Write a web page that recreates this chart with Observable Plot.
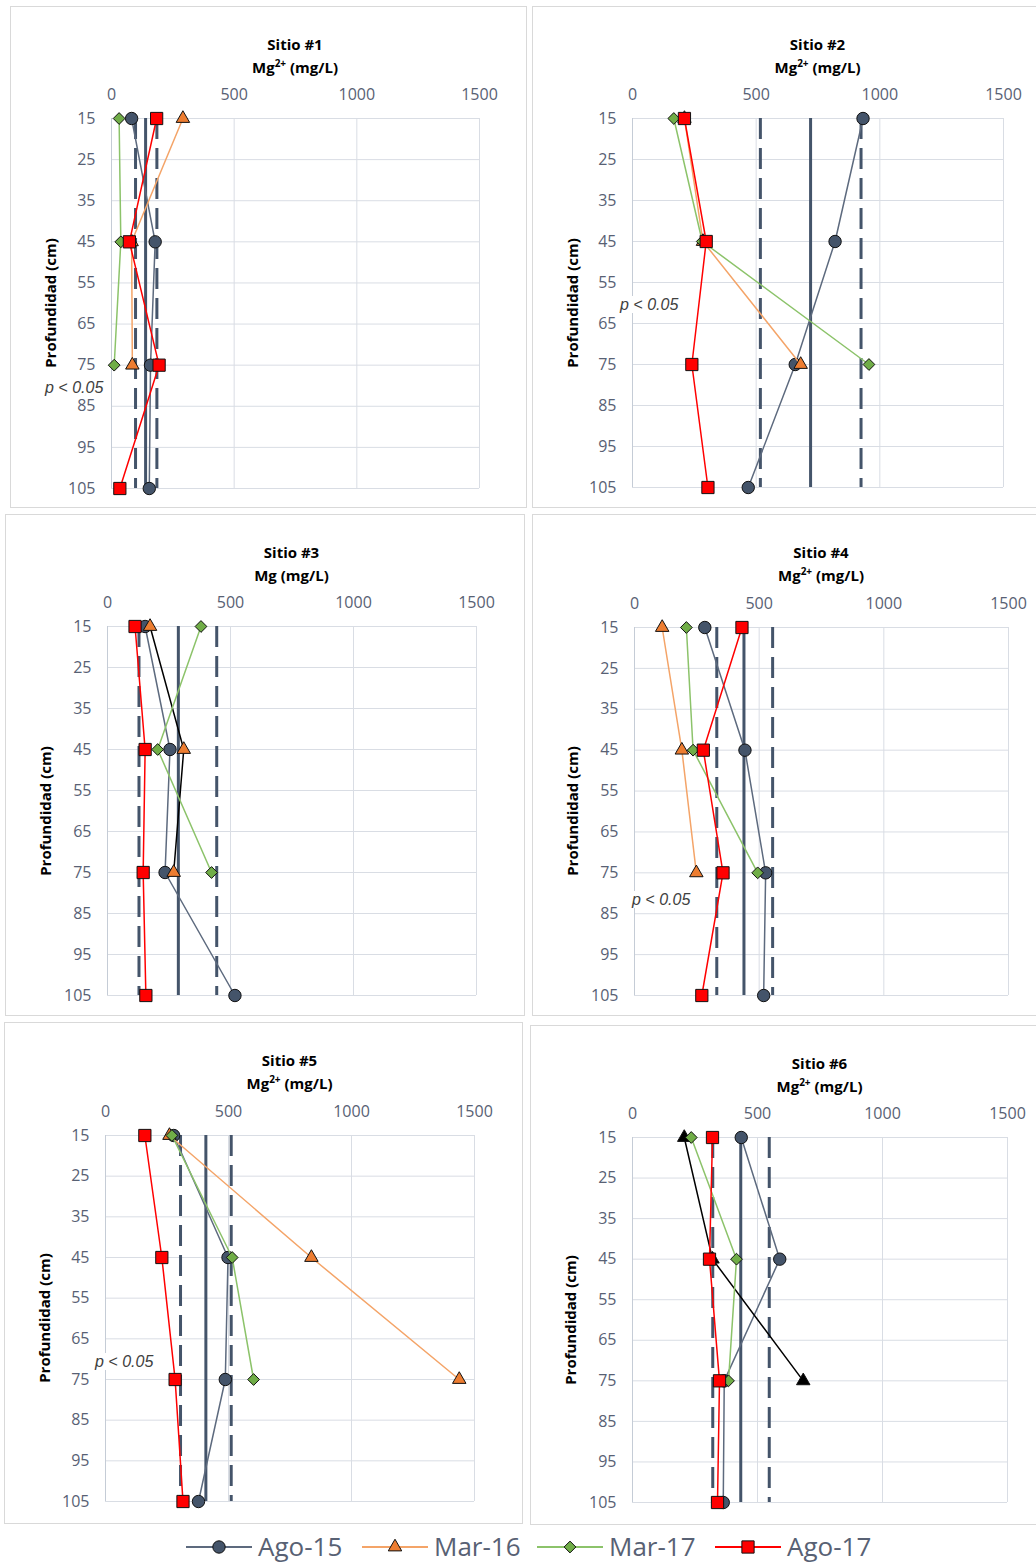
<!DOCTYPE html>
<html><head><meta charset="utf-8">
<script src="https://cdn.jsdelivr.net/npm/d3@7"></script>
<script src="https://cdn.jsdelivr.net/npm/@observablehq/plot@0.6"></script>
<style>
html,body{margin:0;padding:0;background:#fff}
body{width:1036px;height:1563px;overflow:hidden;position:relative;font-family:"Open Sans",sans-serif}
.panel{position:absolute;border:1px solid #d9d9d9;box-sizing:border-box;background:#fff}
.panel svg{position:absolute;left:0;top:0}
.ttl{position:absolute;text-align:center;font-weight:bold;font-size:15px;line-height:23px;color:#000;white-space:nowrap}
.ttl sup{font-size:10px;line-height:0;vertical-align:6px}
.ylab{position:absolute;width:200px;height:20px;line-height:20px;text-align:center;transform:rotate(-90deg);font-weight:bold;font-size:15px;white-space:nowrap;color:#000}
.pval{position:absolute;height:17px;line-height:17px;background:#fff;font-family:"Liberation Sans",Arial,sans-serif;font-style:italic;font-size:16px;color:#404040;padding:0 1px;white-space:nowrap}
</style></head><body>
<script>
// ---------------- data ----------------
const depths = [15, 45, 75, 105];
const depthTicks = [15, 25, 35, 45, 55, 65, 75, 85, 95, 105];
const xTicks = [0, 500, 1000, 1500];
const sites = ["Sitio #1", "Sitio #2", "Sitio #3", "Sitio #4", "Sitio #5", "Sitio #6"];
const units = ["Mg²⁺ (mg/L)", "Mg²⁺ (mg/L)", "Mg (mg/L)", "Mg²⁺ (mg/L)", "Mg²⁺ (mg/L)", "Mg²⁺ (mg/L)"];
const yTitle = "Profundidad (cm)";
const seriesNames = ["Ago-15", "Mar-16", "Mar-17", "Ago-17"];
// values per site at depths 15, 45, 75, 105
const ago15 = [[82,178,159,154],[932,819,658,468],[153,254,234,518],[282,443,526,518],[277,498,487,378],[435,589,367,363]];
const mar16 = [[291,82,85,null],[210,285,680,null],[173,310,269,null],[111,190,248,null],[260,837,1438,null],[207,320,683,null]];
const mar17 = [[31,38,11,null],[167,282,956,null],[380,204,423,null],[208,235,494,null],[270,515,602,null],[235,416,384,null]];
const ago17 = [[184,73,194,34],[210,298,240,305],[112,153,145,156],[431,276,355,270],[160,229,283,315],[320,308,348,340]];
const meanLine = [139, 720, 288, 439, 408, 433];
const lowLine  = [98, 517, 128, 330, 305, 321];
const highLine = [185, 924, 444, 554, 511, 547];
const pLabels = ["p < 0.05", "p < 0.05", null, "p < 0.05", "p < 0.05", null];

// ---------------- styles / layout ----------------
const seriesValues = [ago15, mar16, mar17, ago17];
const seriesStyle = [
  {symbol:"circle",   d3sym:d3.symbolCircle,   r:6.2, fill:"#44546a", line:"#5d6a7e"},
  {symbol:"triangle", d3sym:d3.symbolTriangle, r:5.0, fill:"#ed7d31", line:"#f4a468"},
  {symbol:"diamond2", d3sym:d3.symbolDiamond2, r:5.3, fill:"#70ad47", line:"#8cc36a"},
  {symbol:"square",   d3sym:d3.symbolSquare,   r:6.9, fill:"#ff0000", line:"#ff0000"}
];
// per-site overrides (index site -> series index -> style)
const overrides = {2: {1: {line:"#000000"}}, 5: {1: {line:"#000000", fill:"#000000"}}};
const boxes = [
  {left:10,  top:6,    w:517, h:502, ml:100, mt:111, pw:368, ph:370, p:[33,381]},
  {left:532, top:6,    w:510, h:502, ml:99,  mt:111, pw:371, ph:369, p:[86,298]},
  {left:5,   top:514,  w:520, h:502, ml:101, mt:111, pw:369, ph:369, p:null},
  {left:532, top:514,  w:510, h:502, ml:101, mt:112, pw:374, ph:368, p:[98,385]},
  {left:4,   top:1022, w:519, h:502, ml:100, mt:112, pw:369, ph:366, p:[89,339]},
  {left:530, top:1025, w:512, h:500, ml:101, mt:111, pw:375, ph:365, p:null}
];
const tickColor = "#586174";
const gridColor = "#d9dde4";
const refColor = "#44546a";

function makePanel(i) {
  const b = boxes[i];
  const div = document.createElement("div");
  div.className = "panel";
  Object.assign(div.style, {left:b.left+"px", top:b.top+"px", width:b.w+"px", height:b.h+"px"});
  const W = b.w - 2, H = b.h - 2;
  const marks = [
    Plot.gridX({ticks: xTicks, stroke: gridColor, strokeOpacity: 1, strokeWidth: 1}),
    Plot.gridY({ticks: depthTicks, stroke: gridColor, strokeOpacity: 1, strokeWidth: 1}),
    Plot.ruleX([0], {stroke: "#c5ccd6", strokeWidth: 1}),
    Plot.axisX({anchor: "top", ticks: xTicks, tickSize: 0, tickPadding: 19, label: null, tickFormat: d => String(d)}),
    Plot.axisY({anchor: "left", ticks: depthTicks, tickSize: 0, tickPadding: 16, label: null}),
    Plot.ruleX([lowLine[i], highLine[i]], {stroke: refColor, strokeWidth: 3, strokeDasharray: "21,9"}),
    Plot.ruleX([meanLine[i]], {stroke: refColor, strokeWidth: 3})
  ];
  seriesValues.forEach((vals, k) => {
    const st = Object.assign({}, seriesStyle[k], (overrides[i] || {})[k] || {});
    const rows = depths.map((d, j) => ({depth: d, v: vals[i][j], s: seriesNames[k]})).filter(r => r.v != null);
    marks.push(Plot.line(rows, {x: "v", y: "depth", stroke: st.line, strokeWidth: 1.5}));
    marks.push(Plot.dot(rows, {x: "v", y: "depth", symbol: st.symbol, r: st.r, fill: st.fill, stroke: "#111", strokeWidth: 1}));
  });
  const svg = Plot.plot({
    width: W, height: H,
    marginLeft: b.ml, marginTop: b.mt,
    marginRight: W - b.ml - b.pw, marginBottom: H - b.mt - b.ph,
    x: {domain: [0, 1500]},
    y: {domain: [15, 105], reverse: true},
    style: {fontFamily: "'Open Sans', sans-serif", fontSize: "16px", color: tickColor, background: "transparent", overflow: "visible"},
    marks
  });
  div.appendChild(svg);
  const t = document.createElement("div");
  t.className = "ttl";
  Object.assign(t.style, {left: b.ml + "px", width: b.pw + "px", top: "26px"});
  t.innerHTML = sites[i] + "<br>" + units[i].replace("²⁺", "<sup>2+</sup>");
  div.appendChild(t);
  const yl = document.createElement("div");
  yl.className = "ylab";
  Object.assign(yl.style, {left: (39 - 100) + "px", top: (b.mt + b.ph / 2 - 10) + "px"});
  yl.textContent = yTitle;
  div.appendChild(yl);
  if (pLabels[i] && b.p) {
    const pv = document.createElement("div");
    pv.className = "pval";
    Object.assign(pv.style, {left: b.p[0] + "px", top: (b.p[1] - 9) + "px"});
    pv.textContent = pLabels[i];
    div.appendChild(pv);
  }
  document.body.appendChild(div);
}
sites.forEach((_, i) => makePanel(i));

// ---------------- legend ----------------
const legendX = [186, 362, 537, 715];
const leg = d3.select("body").append("svg")
  .attr("width", 1036).attr("height", 40)
  .style("position", "absolute").style("left", "0px").style("top", "1527px");
seriesNames.forEach((name, k) => {
  const st = seriesStyle[k];
  const g = leg.append("g").attr("transform", `translate(${legendX[k]},20)`);
  g.append("line").attr("x1", 0).attr("x2", 66).attr("stroke", st.line).attr("stroke-width", 2);
  g.append("path").attr("d", d3.symbol(st.d3sym, Math.PI * st.r * st.r)())
    .attr("transform", "translate(33,0)").attr("fill", st.fill).attr("stroke", "#111").attr("stroke-width", 1);
  g.append("text").attr("x", 72).attr("dy", "0.36em").attr("fill", tickColor)
    .style("font-family", "'Open Sans', sans-serif").style("font-size", "26px").text(name);
});
</script>
</body></html>
